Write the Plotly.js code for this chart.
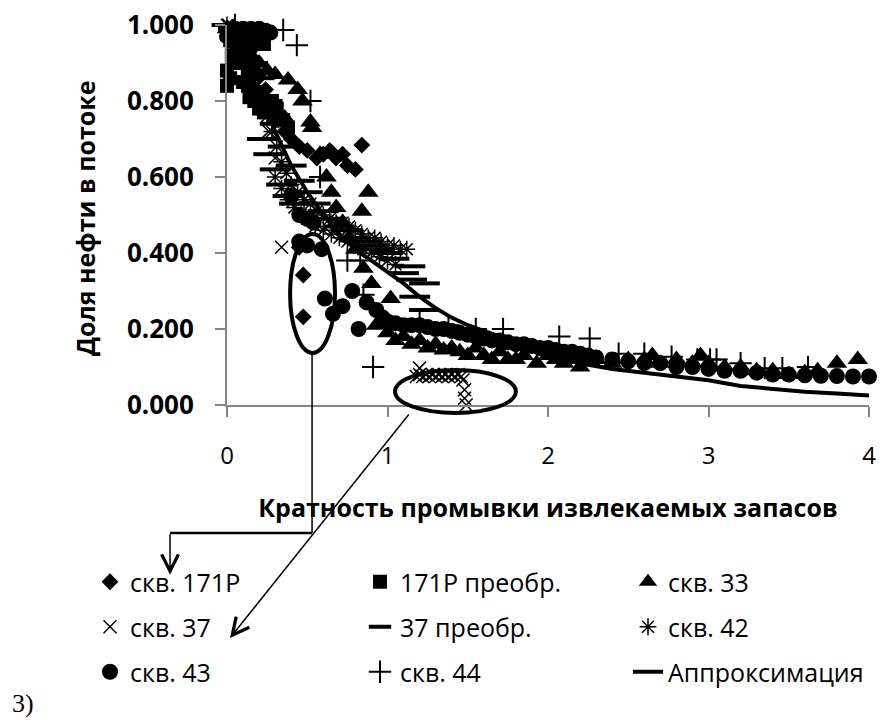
<!DOCTYPE html>
<html>
<head>
<meta charset="utf-8">
<script src="https://cdn.plot.ly/plotly-3.0.1.min.js"></script>
<style>html,body{margin:0;padding:0;background:#fff;}#chart{width:884px;height:720px;}</style>
</head>
<body>
<div id="chart"></div>
<script>
// ---- data ----
const names = ['скв. 171Р', '171Р преобр.', 'скв. 33', 'скв. 37', '37 преобр.', 'скв. 42', 'скв. 43', 'скв. 44', 'Аппроксимация'];

const s171x = [0.01,0.03,0.05,0.08,0.11,0.14,0.17,0.20,0.24,0.28,0.32,0.36,0.40,0.45,0.50,0.56,0.60,0.64,0.68,0.72,0.75,0.80,0.84,0.45,0.475,0.475];
const s171y = [0.99,0.98,0.97,0.96,0.95,0.93,0.90,0.87,0.83,0.79,0.75,0.72,0.70,0.68,0.67,0.65,0.66,0.67,0.65,0.66,0.63,0.62,0.684,0.415,0.342,0.232];

const s171px = [0.00,0.00,0.02,0.04,0.06,0.02,0.05,0.08,0.11,0.14,0.17,0.20,0.23,0.03,0.07,0.10,0.13,0.16,0.10,0.13,0.16,0.19,0.17,0.20,0.23,0.26,0.29,0.32,0.35,0.38,0.14,0.22,0.28,0.31];
const s171py = [0.84,0.88,0.86,0.90,0.93,0.96,0.98,0.97,0.97,0.96,0.95,0.96,0.95,0.92,0.93,0.90,0.88,0.87,0.85,0.84,0.83,0.82,0.80,0.78,0.77,0.79,0.76,0.75,0.75,0.73,0.81,0.82,0.80,0.78];

const s33x = [0.00,0.03,0.06,0.10,0.15,0.20,0.25,0.30,0.38,0.44,0.47,0.36,0.52,0.53,0.58,0.62,0.65,0.68,0.72,0.76,0.80,0.88,0.84,0.85,0.90,0.93,1.02,1.05,1.00,1.10,1.15,1.20,1.25,1.30,1.35,1.40,1.45,1.50,1.55,1.60,1.65,1.70,1.75,1.80,1.85,1.93,2.00,2.05,2.10,2.15,2.20,2.30,2.40,2.50,2.60,2.65,2.70,2.80,2.90,2.95,3.00,3.10,3.20,3.30,3.40,3.50,3.60,3.68,3.80,3.93];
const s33y = [0.99,0.97,0.95,0.93,0.92,0.90,0.88,0.87,0.855,0.83,0.80,0.755,0.745,0.73,0.66,0.60,0.56,0.52,0.48,0.44,0.41,0.56,0.51,0.36,0.32,0.21,0.28,0.17,0.19,0.18,0.16,0.17,0.15,0.16,0.145,0.15,0.14,0.13,0.15,0.13,0.12,0.14,0.12,0.12,0.13,0.11,0.13,0.12,0.11,0.12,0.10,0.12,0.11,0.12,0.12,0.13,0.11,0.12,0.11,0.13,0.11,0.10,0.10,0.09,0.09,0.08,0.085,0.09,0.11,0.12];

const s37x = [0.01,0.04,0.07,0.10,0.14,0.18,0.22,0.26,0.30,0.34,1.20,1.18,1.20,1.22,1.24,1.26,1.28,1.30,1.32,1.34,1.36,1.38,1.40,1.42,1.44,1.46,1.47,1.48,1.48,1.49];
const s37y = [1.00,0.99,0.97,0.95,0.90,0.84,0.78,0.72,0.65,0.415,0.097,0.075,0.08,0.075,0.08,0.075,0.08,0.075,0.08,0.075,0.08,0.075,0.08,0.075,0.08,0.075,0.066,0.04,0.018,0.00];

const s37px = [0.00,0.04,0.08,0.12,0.16,0.20,0.25,0.30,0.35,0.40,0.45,0.50,0.55,0.60,0.65,0.70,0.75,0.80,0.85,0.90,0.95,1.00,1.04,1.10,1.14,1.15,1.23,1.17,1.23,0.22,0.26,0.30,0.34,0.38,0.42];
const s37py = [1.00,0.99,0.97,0.94,0.90,0.86,0.80,0.74,0.68,0.63,0.59,0.56,0.53,0.51,0.49,0.47,0.46,0.44,0.43,0.42,0.41,0.40,0.385,0.347,0.365,0.33,0.32,0.285,0.25,0.70,0.66,0.62,0.58,0.55,0.53];

const s42x = [0.00,0.02,0.04,0.07,0.10,0.13,0.16,0.19,0.22,0.25,0.28,0.31,0.34,0.37,0.40,0.44,0.48,0.52,0.56,0.60,0.64,0.68,0.72,0.76,0.80,0.84,0.88,0.92,0.96,1.00,1.04,1.08,1.12,0.30,0.34,0.38,0.42,0.46,0.50,0.55,0.60,0.65,0.70,0.75,0.80,0.85,0.90,0.95,1.00,1.05];
const s42y = [1.00,0.98,0.99,0.97,0.95,0.92,0.88,0.84,0.80,0.76,0.72,0.68,0.64,0.61,0.58,0.56,0.54,0.53,0.51,0.50,0.49,0.48,0.48,0.47,0.46,0.45,0.44,0.44,0.43,0.42,0.42,0.41,0.41,0.60,0.57,0.54,0.52,0.50,0.49,0.47,0.46,0.45,0.44,0.43,0.42,0.41,0.40,0.39,0.38,0.37];

const s43x = [0.00,0.05,0.10,0.15,0.20,0.24,0.27,0.40,0.45,0.50,0.54,0.45,0.50,0.59,0.61,0.66,0.72,0.78,0.82,0.87,0.93,0.97,1.00,1.05,1.10,1.15,1.20,1.25,1.30,1.35,1.40,1.45,1.50,1.55,1.60,1.65,1.70,1.75,1.80,1.85,1.90,1.95,2.00,2.05,2.10,2.15,2.20,2.25,2.30,2.40,2.50,2.60,2.70,2.80,2.90,3.00,3.10,3.20,3.30,3.40,3.50,3.60,3.70,3.80,3.90,4.00];
const s43y = [0.97,0.99,0.99,0.99,0.99,0.985,0.98,0.55,0.50,0.49,0.48,0.43,0.42,0.41,0.28,0.24,0.26,0.30,0.20,0.27,0.25,0.23,0.22,0.215,0.21,0.21,0.21,0.205,0.20,0.20,0.195,0.19,0.185,0.18,0.175,0.17,0.17,0.165,0.16,0.16,0.155,0.15,0.15,0.145,0.14,0.14,0.135,0.13,0.125,0.12,0.115,0.11,0.11,0.10,0.10,0.095,0.09,0.09,0.085,0.08,0.08,0.078,0.077,0.076,0.075,0.075];

const s44x = [0.05,0.10,0.15,0.20,0.35,0.435,0.52,0.58,0.75,0.83,0.85,0.91,1.20,1.38,1.55,1.72,2.07,2.26,2.44,2.60,2.77,2.93,3.01,3.05,3.20,3.35,3.46,3.62];
const s44y = [1.00,0.98,0.97,0.98,0.987,0.947,0.80,0.60,0.38,0.38,0.29,0.10,0.22,0.21,0.20,0.20,0.18,0.175,0.135,0.135,0.127,0.12,0.12,0.12,0.11,0.097,0.097,0.10];

const apprX = [0,0.1,0.2,0.3,0.4,0.5,0.6,0.7,0.8,0.9,1.0,1.1,1.2,1.3,1.4,1.5,1.6,1.7,1.8,1.9,2.0,2.2,2.4,2.6,2.8,3.0,3.2,3.4,3.6,3.8,4.0];
const apprY = [1.0,0.92,0.82,0.72,0.63,0.56,0.50,0.45,0.41,0.38,0.35,0.32,0.285,0.255,0.23,0.21,0.195,0.18,0.165,0.15,0.135,0.11,0.095,0.085,0.075,0.065,0.05,0.042,0.035,0.03,0.025];

const xTicks = [0, 1, 2, 3, 4];
const yTicks = [0, 0.2, 0.4, 0.6, 0.8, 1.0];
const xTitle = 'Кратность промывки извлекаемых запасов';
const yTitle = 'Доля нефти в потоке';
const panelLabel = '3)';

// ---- styling ----
const FONT = 'Open Sans, Noto Sans, sans-serif';
const K = '#000000';
function mk(x, y, name, marker, legendId) {
  return {type: 'scatter', mode: 'markers', x: x, y: y, name: name, marker: marker,
          cliponaxis: false, legend: legendId, hoverinfo: 'skip'};
}
const traces = [
  mk(s171x, s171y, names[0], {symbol: 'diamond', size: 13, color: K}, 'legend'),
  mk(s171px, s171py, names[1], {symbol: 'square', size: 14, color: K}, 'legend2'),
  mk(s33x, s33y, names[2], {symbol: 'triangle-up', size: 18, color: K}, 'legend3'),
  mk(s37x, s37y, names[3], {symbol: 'x-thin', size: 13, color: K, line: {color: K, width: 1.5}}, 'legend4'),
  mk(s37px, s37py, names[4], {symbol: 'line-ew', size: 22, color: K, line: {color: K, width: 4}}, 'legend5'),
  mk(s42x, s42y, names[5], {symbol: 'asterisk', size: 14, color: K, line: {color: K, width: 1.5}}, 'legend6'),
  mk(s43x, s43y, names[6], {symbol: 'circle', size: 16, color: K}, 'legend7'),
  mk(s44x, s44y, names[7], {symbol: 'cross-thin', size: 16, color: K, line: {color: K, width: 2}}, 'legend8'),
  {type: 'scatter', mode: 'lines', x: apprX, y: apprY, name: names[8], line: {color: K, width: 4},
   cliponaxis: false, legend: 'legend9', hoverinfo: 'skip'}
];

// legend grid: 3 columns x 3 rows (positions in container pixels)
const colLeft = [90, 360, 628];
const rowMid = [582, 627, 672];
function leg(i) {
  const c = i % 3, r = Math.floor(i / 3);
  return {xref: 'container', yref: 'container', x: colLeft[c] / 884, y: 1 - rowMid[r] / 720,
          xanchor: 'left', yanchor: 'middle', orientation: 'v', bgcolor: 'rgba(0,0,0,0)',
          borderwidth: 0, itemsizing: 'trace', font: {family: FONT, size: 25, color: K}};
}

// plot area in pixels: x 227..869, y 25..405 ; paper units = data/4 for x, data for y
const px = v => v / 4;
const shapes = [
  {type: 'circle', xref: 'paper', yref: 'paper', x0: px(0.393), x1: px(0.673), y0: 0.137, y1: 0.45, line: {color: K, width: 4}},
  {type: 'circle', xref: 'paper', yref: 'paper', x0: px(1.047), x1: px(1.80), y0: -0.021, y1: 0.092, line: {color: K, width: 4}},
  {type: 'line', xref: 'paper', yref: 'paper', x0: px(0.53), x1: px(0.53), y0: 0.137, y1: -0.337, line: {color: K, width: 1.5}},
  {type: 'line', xref: 'paper', yref: 'paper', x0: px(-0.355), x1: px(0.53), y0: -0.337, y1: -0.337, line: {color: K, width: 2.5}}
];
const annotations = [
  {xref: 'paper', yref: 'paper', x: px(-0.355), y: -0.447, ax: 0, ay: -42, axref: 'pixel', ayref: 'pixel',
   text: '', showarrow: true, arrowhead: 5, arrowsize: 2.2, arrowwidth: 1.5, arrowcolor: K},
  {xref: 'paper', yref: 'paper', x: px(0.0187), y: -0.613, ax: 180, ay: -225, axref: 'pixel', ayref: 'pixel',
   text: '', showarrow: true, arrowhead: 5, arrowsize: 2.2, arrowwidth: 1.5, arrowcolor: K},
  {xref: 'paper', yref: 'paper', x: -217 / 642, y: -298 / 380, xanchor: 'left', yanchor: 'middle',
   text: panelLabel, showarrow: false, font: {family: 'Liberation Serif, Times New Roman, serif', size: 26, color: K}},
  // y-axis title (rotated), placed left of the tick labels
  {xref: 'paper', yref: 'paper', x: -142 / 642, y: 187 / 380, xanchor: 'center', yanchor: 'middle', textangle: -90,
   text: yTitle, showarrow: false, font: {family: FONT, size: 25, color: K, weight: 'bold'}}
];

const layout = {
  width: 884, height: 720,
  margin: {l: 227, r: 15, t: 25, b: 315, autoexpand: false},
  paper_bgcolor: '#ffffff', plot_bgcolor: '#ffffff',
  showlegend: true,
  xaxis: {range: [0, 4], tickvals: xTicks, ticktext: xTicks.map(String), showgrid: false, zeroline: false,
          showline: true, linecolor: '#868686', linewidth: 2, ticks: 'outside', ticklen: 10, tickcolor: '#868686', tickwidth: 2,
          tickfont: {family: FONT, size: 24, color: K}, ticklabelstandoff: 18, fixedrange: true, automargin: false,
          title: {text: xTitle, font: {family: FONT, size: 25, color: K, weight: 'bold'}, standoff: 30}},
  yaxis: {range: [0, 1], tickvals: yTicks, tickformat: '.3f', showgrid: false, zeroline: false,
          showline: true, linecolor: '#868686', linewidth: 2, ticks: 'outside', ticklen: 10, tickcolor: '#868686', tickwidth: 2,
          tickfont: {family: FONT, size: 26, color: K, weight: 'bold'}, ticklabelstandoff: 16, fixedrange: true, automargin: false},
  shapes: shapes,
  annotations: annotations
};
const legendKeys = ['legend','legend2','legend3','legend4','legend5','legend6','legend7','legend8','legend9'];
legendKeys.forEach((k, i) => { layout[k] = leg(i); });

Plotly.newPlot('chart', traces, layout, {staticPlot: true, displayModeBar: false});
</script>
</body>
</html>
